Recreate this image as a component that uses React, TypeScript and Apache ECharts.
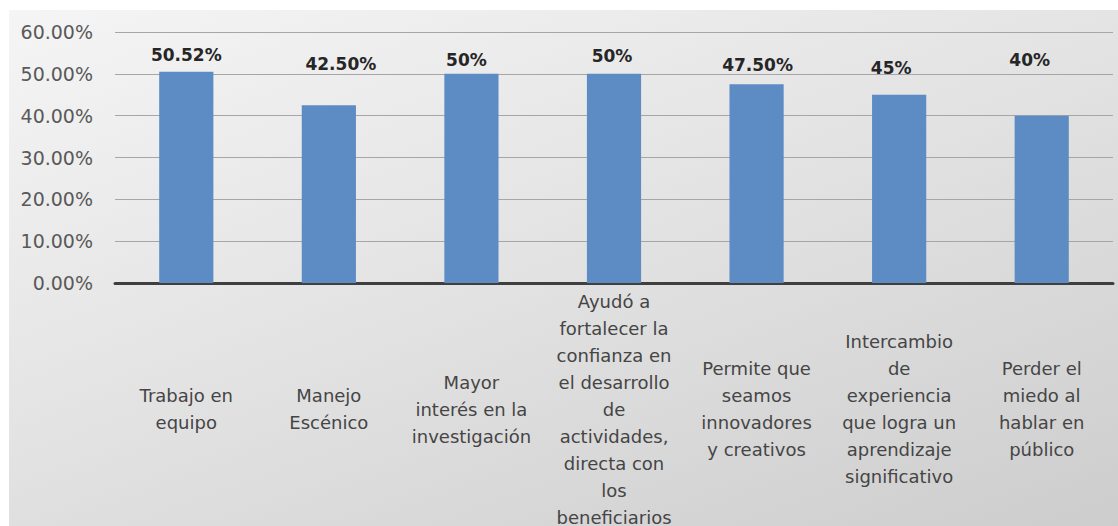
import React, { useEffect, useRef } from "react";
import * as echarts from "echarts";

const categories = [
  "Trabajo en\nequipo",
  "Manejo\nEscénico",
  "Mayor\ninterés en la\ninvestigación",
  "Ayudó a\nfortalecer la\nconfianza en\nel desarrollo\nde\nactividades,\ndirecta con\nlos\nbeneficiarios",
  "Permite que\nseamos\ninnovadores\ny creativos",
  "Intercambio\nde\nexperiencia\nque logra un\naprendizaje\nsignificativo",
  "Perder el\nmiedo al\nhablar en\npúblico",
];
const values = [50.52, 42.5, 50, 50, 47.5, 45, 40];
const labelTexts = ["50.52%", "42.50%", "50%", "50%", "47.50%", "45%", "40%"];
const yTicks = [0, 10, 20, 30, 40, 50, 60];

// label placement tweaks (style, not data)
const labelShift: [number, number][] = [
  [0, -8],
  [12, -33],
  [-5, -5],
  [-2, -9],
  [1, -11],
  [-8, -18],
  [-12, -47],
];

const FONT = "'DejaVu Sans', sans-serif";

export default function App() {
  const ref = useRef<HTMLDivElement>(null);
  useEffect(() => {
    if (!ref.current) return;
    const chart = echarts.init(ref.current, undefined, { renderer: "svg" });
    chart.setOption({
      animation: false,
      backgroundColor: "transparent",
      grid: {
        left: 106,
        right: 5,
        top: 22,
        bottom: 243,
        containLabel: false,
        outerBoundsMode: "none",
      },
      xAxis: {
        type: "category",
        data: categories,
        axisLine: { show: true, lineStyle: { color: "#3f3f3f", width: 3 } },
        axisTick: { show: false },
        axisLabel: {
          interval: 0,
          margin: 126,
          verticalAlign: "middle",
          align: "center",
          color: "#454545",
          fontFamily: FONT,
          fontSize: 18,
          lineHeight: 27,
        },
      },
      yAxis: {
        type: "value",
        min: yTicks[0],
        max: yTicks[yTicks.length - 1],
        interval: 10,
        axisLine: { show: false },
        axisTick: { show: false },
        splitLine: { show: true, lineStyle: { color: "#a6a6a6", width: 1 } },
        axisLabel: {
          margin: 22,
          color: "#595959",
          fontFamily: FONT,
          fontSize: 19,
          formatter: (v: number) => v.toFixed(2) + "%",
        },
      },
      series: [
        {
          type: "bar",
          barWidth: "38%",
          data: values.map((v, i) => ({
            value: v,
            label: {
              show: true,
              position: "top",
              distance: 0,
              offset: labelShift[i],
              formatter: labelTexts[i],
              color: "#262626",
              fontWeight: "bold",
              fontFamily: FONT,
              fontSize: 17,
            },
          })),
          itemStyle: { color: "#5d8cc5" },
        },
      ],
    });
    return () => chart.dispose();
  }, []);
  return (
    <div
      ref={ref}
      style={{
        position: "absolute",
        left: 9,
        top: 10,
        width: 1109,
        height: 516,
        background: "linear-gradient(160deg, #f5f5f5 0%, #e4e4e4 45%, #cdcdcd 100%)",
      }}
    />
  );
}
